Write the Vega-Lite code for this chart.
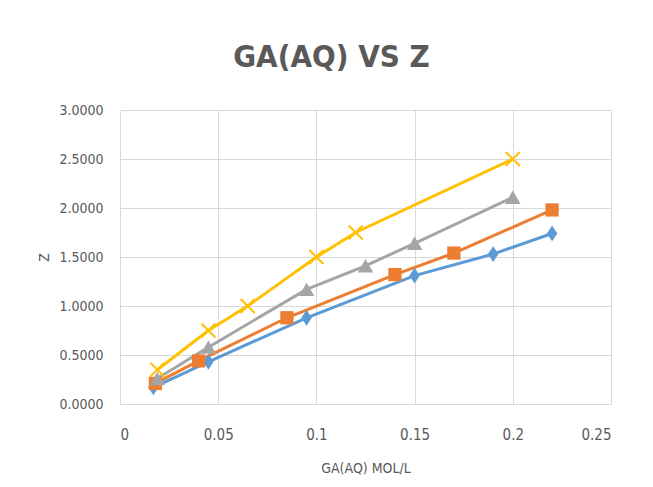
{
  "$schema": "https://vega.github.io/schema/vega-lite/v6.json",
  "width": 491,
  "height": 294,
  "autosize": {"type": "none"},
  "padding": {"left": 120, "top": 110, "right": 42, "bottom": 83},
  "background": "white",
  "title": {
    "text": "GA(AQ) VS Z",
    "anchor": "middle",
    "dx": -34,
    "offset": 29,
    "font": "DejaVu Sans Condensed, Roboto, sans-serif",
    "fontSize": 31,
    "fontWeight": "bold",
    "color": "#595959"
  },
  "config": {
    "view": {"stroke": null},
    "font": "Roboto, sans-serif",
    "axis": {
      "gridColor": "#d9d9d9",
      "gridWidth": 1,
      "ticks": false,
      "domain": false,
      "labelColor": "#595959",
      "titleColor": "#595959",
      "labelFont": "DejaVu Sans Condensed, Roboto, sans-serif",
      "titleFont": "DejaVu Sans Condensed, Roboto, sans-serif",
      "titleFontWeight": "normal"
    }
  },
  "data": {
    "values": [
      {"series": "A", "x": 0.017, "z": 0.17},
      {"series": "A", "x": 0.045, "z": 0.43},
      {"series": "A", "x": 0.095, "z": 0.88},
      {"series": "A", "x": 0.15, "z": 1.31},
      {"series": "A", "x": 0.19, "z": 1.53},
      {"series": "A", "x": 0.22, "z": 1.74},
      {"series": "B", "x": 0.018, "z": 0.21},
      {"series": "B", "x": 0.04, "z": 0.44},
      {"series": "B", "x": 0.085, "z": 0.88},
      {"series": "B", "x": 0.14, "z": 1.32},
      {"series": "B", "x": 0.17, "z": 1.54},
      {"series": "B", "x": 0.22, "z": 1.98},
      {"series": "C", "x": 0.019, "z": 0.26},
      {"series": "C", "x": 0.045, "z": 0.58},
      {"series": "C", "x": 0.095, "z": 1.17},
      {"series": "C", "x": 0.125, "z": 1.41},
      {"series": "C", "x": 0.15, "z": 1.64},
      {"series": "C", "x": 0.2, "z": 2.11},
      {"series": "D", "x": 0.019, "z": 0.35},
      {"series": "D", "x": 0.045, "z": 0.75},
      {"series": "D", "x": 0.065, "z": 1.0},
      {"series": "D", "x": 0.1, "z": 1.5},
      {"series": "D", "x": 0.12, "z": 1.75},
      {"series": "D", "x": 0.2, "z": 2.5}
    ]
  },
  "encoding": {
    "x": {
      "field": "x", "type": "quantitative",
      "scale": {"domain": [0, 0.25], "nice": false, "zero": true},
      "axis": {"values": [0, 0.05, 0.1, 0.15, 0.2, 0.25], "format": "~g", "title": "GA(AQ) MOL/L", "labelFontSize": 15, "labelPadding": 23, "titleFontSize": 14, "titlePadding": 19}
    },
    "y": {
      "field": "z", "type": "quantitative",
      "scale": {"domain": [0, 3], "nice": false},
      "axis": {"values": [0, 0.5, 1, 1.5, 2, 2.5, 3], "format": ".4f", "title": "Z", "labelFontSize": 14, "labelPadding": 17, "titleFontSize": 14, "titlePadding": 7}
    },
    "color": {
      "field": "series", "type": "nominal",
      "scale": {"domain": ["A", "B", "C", "D"], "range": ["#5B9BD5", "#ED7D31", "#A5A5A5", "#FFC000"]},
      "legend": null
    }
  },
  "layer": [
    {"mark": {"type": "line", "strokeWidth": 3}},
    {
      "transform": [{"filter": "datum.series != 'D'"}],
      "mark": {"type": "point", "filled": true, "opacity": 1},
      "encoding": {
        "shape": {
          "field": "series", "type": "nominal",
          "scale": {"domain": ["A", "B", "C"], "range": ["M0,-1.5L1,0L0,1.5L-1,0Z", "square", "triangle-up"]},
          "legend": null
        },
        "size": {
          "field": "series", "type": "nominal",
          "scale": {"domain": ["A", "B", "C"], "range": [110, 240, 200]},
          "legend": null
        }
      }
    },
    {
      "transform": [{"filter": "datum.series == 'D'"}],
      "mark": {"type": "point", "filled": false, "shape": "M-1,-1L1,1M-1,1L1,-1", "size": 200, "strokeWidth": 2, "opacity": 1}
    }
  ]
}
